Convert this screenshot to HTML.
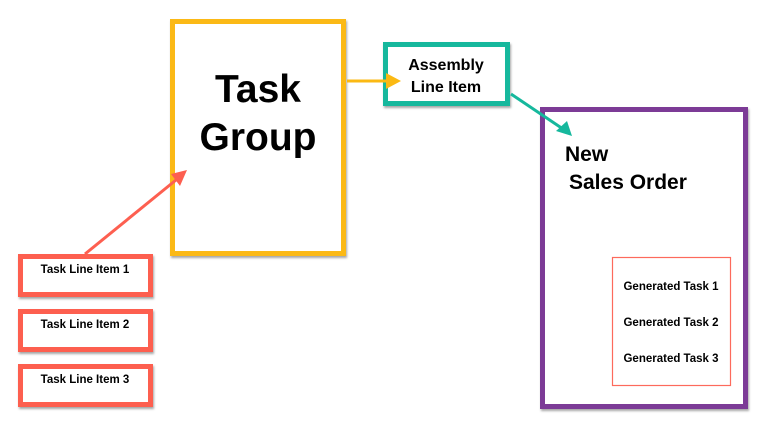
<!DOCTYPE html>
<html><head><style>body{margin:0;background:#fff}</style></head><body>
<svg width="772" height="443" xmlns="http://www.w3.org/2000/svg" font-family="Liberation Sans, Arial, sans-serif" font-weight="bold">
<defs><filter id="s" x="-10%" y="-10%" width="130%" height="130%"><feDropShadow dx="1" dy="2" stdDeviation="1" flood-color="#000" flood-opacity="0.35"/></filter></defs>
<g fill="#fff" stroke-width="5" filter="url(#s)">
<rect x="172.5" y="21.5" width="171" height="232" stroke="#fbb913"/>
<rect x="385.5" y="44.5" width="122" height="59" stroke="#16b89d"/>
<rect x="542.5" y="109.5" width="203" height="297" stroke="#7b3a96"/>
<rect x="20.5" y="256.5" width="130" height="38" stroke="#fd5f50"/>
<rect x="20.5" y="311.5" width="130" height="38" stroke="#fd5f50"/>
<rect x="20.5" y="366.5" width="130" height="38" stroke="#fd5f50"/>
</g>
<rect x="612.5" y="257.5" width="118" height="128" fill="none" stroke="#fd6a5c" stroke-width="1.2"/>
<!-- arrows -->
<line x1="85" y1="254" x2="176" y2="180" stroke="#fd5f50" stroke-width="3"/>
<polygon points="187,170 171,174 180,186" fill="#fd5f50"/>
<line x1="347" y1="81" x2="388" y2="81" stroke="#fbb913" stroke-width="3"/>
<polygon points="401,81 386,73 386,89" fill="#fbb913"/>
<line x1="511" y1="94" x2="563" y2="129" stroke="#16b89d" stroke-width="3"/>
<polygon points="572,136 556,131 567,121" fill="#16b89d"/>
<g fill="#000" text-anchor="middle">
<text x="258" y="102" font-size="39">Task</text>
<text x="258" y="150" font-size="39">Group</text>
<text x="446" y="70" font-size="16">Assembly</text>
<text x="446" y="92" font-size="16">Line Item</text>
<text x="85" y="273" font-size="11.5">Task Line Item 1</text>
<text x="85" y="328" font-size="11.5">Task Line Item 2</text>
<text x="85" y="383" font-size="11.5">Task Line Item 3</text>
<text x="671" y="290" font-size="11.5">Generated Task 1</text>
<text x="671" y="326" font-size="11.5">Generated Task 2</text>
<text x="671" y="362" font-size="11.5">Generated Task 3</text>
</g>
<text x="565" y="161" font-size="21">New</text>
<text x="569" y="189" font-size="21">Sales Order</text>
</svg>
</body></html>
